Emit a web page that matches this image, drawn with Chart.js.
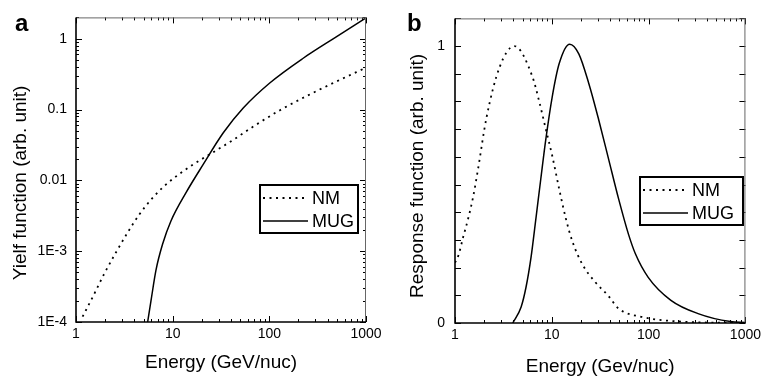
<!DOCTYPE html>
<html lang="en">
<head>
<meta charset="UTF-8">
<title>Yield and response functions</title>
<script src="https://cdn.jsdelivr.net/npm/chart.js"></script>
<style>
  body { margin: 0; background: #fff; }
  #wrap { position: relative; width: 765px; height: 380px; }
  canvas { position: absolute; top: 0; }
  #chartA { left: 0; }
  #chartB { left: 380px; }
</style>
</head>
<body>
<div id="wrap">
  <canvas id="chartA" width="392" height="380"></canvas>
  <canvas id="chartB" width="385" height="380"></canvas>
</div>
<script>
// ---- data ----
// panel a: yield function (log-log)
const nmYieldE  = [1.17, 1.49, 1.96, 2.59, 3.42, 4.52, 6.2, 8.5, 12.7, 16.3, 26.2, 42.4, 68.2, 129, 243, 497, 1000];
const nmYield   = [1.19e-4, 2.26e-4, 4.8e-4, 9.6e-4, 1.83e-3, 3.3e-3, 5.66e-3, 8.7e-3, 0.0133, 0.0168, 0.0249, 0.0374, 0.0575, 0.098, 0.155, 0.25, 0.39];
const mugYieldE = [5.51, 5.97, 6.72, 7.87, 9.6, 13.7, 20.7, 33.4, 53.7, 101, 224, 497, 1000];
const mugYield  = [1e-4, 2.0e-4, 5.4e-4, 1.26e-3, 2.67e-3, 6.65e-3, 0.0168, 0.047, 0.105, 0.237, 0.53, 1.07, 1.97];

// panel b: response function (log x, linear y)
const nmRespE  = [1, 1.08, 1.22, 1.37, 1.54, 1.73, 2.11, 2.89, 4.1, 6.3, 7.41, 8.67, 10.1, 11.9, 13.9, 16.3, 20.6, 28.2, 38, 49, 85, 217, 1000];
const nmResp   = [0.218, 0.242, 0.313, 0.378, 0.456, 0.556, 0.74, 0.924, 1.0, 0.89, 0.80, 0.70, 0.604, 0.485, 0.38, 0.295, 0.213, 0.147, 0.1, 0.052, 0.022, 0.005, 0];
const mugRespE = [3.95, 4.82, 5.42, 6.1, 6.86, 7.7, 8.67, 10.1, 11.9, 15.3, 19, 24.1, 30.5, 38.6, 48.9, 62, 73, 99, 170, 324, 700, 1000];
const mugResp  = [0, 0.058, 0.13, 0.237, 0.379, 0.521, 0.663, 0.817, 0.936, 1.007, 0.972, 0.865, 0.734, 0.592, 0.449, 0.32, 0.25, 0.165, 0.082, 0.034, 0.005, 0.002];

// tick labels
const xTicks  = [1, 10, 100, 1000];
const xLabels = ['1', '10', '100', '1000'];
const yaTicks  = [1e-4, 1e-3, 0.01, 0.1, 1];
const yaLabels = ['1E-4', '1E-3', '0.01', '0.1', '1'];
const ybTicks  = [0, 1];
const ybLabels = ['0', '1'];

const seriesNames = ['NM', 'MUG'];

Chart.defaults.font.family = "'Liberation Sans', Arial, sans-serif";
Chart.defaults.color = '#000';

function pts(xs, ys) {
  return xs.map((x, i) => ({ x: x, y: ys[i] }));
}

// inward ticks on all four sides, frame, boxed legend and panel letter
const framePlugin = {
  id: 'frame',
  afterDatasetsDraw(chart, args, opts) {
    const { ctx, chartArea: a, scales } = chart;
    const xs = scales.x, ys = scales.y;
    ctx.save();
    ctx.strokeStyle = '#000';
    ctx.lineWidth = 1;

    function logValues(min, max) {
      const out = [];
      for (let k = Math.floor(Math.log10(min)); k <= Math.ceil(Math.log10(max)); k++) {
        for (let m = 1; m <= 9; m++) {
          const v = m * Math.pow(10, k);
          if (v >= min * 0.999 && v <= max * 1.001) out.push({ v: v, major: m === 1 });
        }
      }
      return out;
    }

    logValues(xs.min, xs.max).forEach(t => {
      const px = Math.round(xs.getPixelForValue(t.v)) + 0.5;
      const len = t.major ? 6 : 3;
      ctx.beginPath();
      ctx.moveTo(px, a.bottom); ctx.lineTo(px, a.bottom - len);
      ctx.moveTo(px, a.top); ctx.lineTo(px, a.top + len);
      ctx.stroke();
    });

    let yVals;
    if (ys.type === 'logarithmic') {
      yVals = logValues(ys.min, ys.max);
    } else {
      yVals = [];
      for (let i = 0; i * 0.1 <= ys.max + 1e-9; i++) yVals.push({ v: i * 0.1, major: true });
    }
    yVals.forEach(t => {
      const py = Math.round(ys.getPixelForValue(t.v)) + 0.5;
      const len = t.major ? 6 : 3;
      ctx.beginPath();
      ctx.moveTo(a.left, py); ctx.lineTo(a.left + len, py);
      ctx.moveTo(a.right, py); ctx.lineTo(a.right - len, py);
      ctx.stroke();
    });

    // frame
    ctx.strokeStyle = '#666';
    ctx.lineWidth = 1;
    ctx.beginPath();
    ctx.moveTo(a.left, a.top + 0.5); ctx.lineTo(a.right, a.top + 0.5);
    ctx.moveTo(a.right - 0.5, a.top); ctx.lineTo(a.right - 0.5, a.bottom);
    ctx.stroke();
    ctx.strokeStyle = '#000';
    ctx.lineWidth = 1.6;
    ctx.beginPath();
    ctx.moveTo(a.left, a.top); ctx.lineTo(a.left, a.bottom);
    ctx.lineTo(a.right, a.bottom);
    ctx.stroke();

    // legend box
    const b = opts.box;
    ctx.lineWidth = 2;
    ctx.fillStyle = '#fff';
    ctx.fillRect(b.left, b.top, b.width, b.height);
    ctx.strokeRect(b.left, b.top, b.width, b.height);
    ctx.font = "18px 'Liberation Sans', Arial, sans-serif";
    ctx.textBaseline = 'middle';
    ctx.fillStyle = '#000';
    chart.data.datasets.forEach((ds, i) => {
      const cy = b.top + 13 + i * 23;
      ctx.setLineDash(ds.borderDash || []);
      ctx.lineWidth = ds.borderWidth;
      ctx.beginPath();
      ctx.moveTo(b.left + 3, cy); ctx.lineTo(b.left + 48, cy);
      ctx.stroke();
      ctx.setLineDash([]);
      ctx.fillText(ds.label, b.left + 52, cy + 1);
    });

    // panel letter
    ctx.font = "bold 24px 'Liberation Sans', Arial, sans-serif";
    ctx.textBaseline = 'alphabetic';
    ctx.fillText(opts.letter, opts.letterX, opts.letterY);
    ctx.restore();
  }
};

function makeChart(id, p) {
  return new Chart(document.getElementById(id), {
    type: 'line',
    data: {
      datasets: [
        { label: seriesNames[0], data: pts(p.nmE, p.nmY), borderColor: '#000', borderWidth: 1.8,
          borderDash: [2, 4.5], pointRadius: 0, cubicInterpolationMode: 'monotone', fill: false },
        { label: seriesNames[1], data: pts(p.mugE, p.mugY), borderColor: '#000', borderWidth: 1.5,
          pointRadius: 0, cubicInterpolationMode: 'monotone', fill: false }
      ]
    },
    options: {
      responsive: false,
      animation: false,
      layout: { padding: { top: 14, right: p.padRight, left: 0, bottom: 0 } },
      plugins: {
        legend: { display: false },
        tooltip: { enabled: false },
        frame: { box: p.box, letter: p.letter, letterX: p.letterX, letterY: 31 }
      },
      scales: {
        x: {
          type: 'logarithmic', min: 1, max: 1000,
          grid: { display: false, drawTicks: false },
          border: { display: false },
          afterBuildTicks: s => { s.ticks = xTicks.map(v => ({ value: v })); },
          afterFit: s => { s.height = p.xHeight; },
          ticks: { autoSkip: false, maxRotation: 0, padding: 4, font: { size: 14 },
                   callback: v => xLabels[xTicks.indexOf(v)] },
          title: { display: true, text: p.xTitle, font: { size: 19 }, padding: { top: 0, bottom: p.xTitlePad } }
        },
        y: {
          type: p.yType, min: p.yMin, max: p.yMax,
          grid: { display: false, drawTicks: false },
          border: { display: false },
          afterBuildTicks: s => { s.ticks = p.yTicks.map(v => ({ value: v })); },
          afterFit: s => { s.width = p.yWidth; },
          ticks: { autoSkip: false, padding: p.yTickPad, font: { size: 14 },
                   callback: v => p.yLabels[p.yTicks.indexOf(v)] },
          // trailing no-break spaces nudge the centred title down as in the original
          title: { display: true, text: p.yTitle + p.yTitleShift, font: { size: 19 }, padding: { top: p.yTitlePad, bottom: 0 } }
        }
      }
    },
    plugins: [framePlugin]
  });
}

makeChart('chartA', {
  nmE: nmYieldE, nmY: nmYield, mugE: mugYieldE, mugY: mugYield,
  yType: 'logarithmic', yMin: 1e-4, yMax: 2, yTicks: yaTicks, yLabels: yaLabels,
  xTitle: 'Energy (GeV/nuc)', yTitle: 'Yielf function (arb. unit)', yTitleShift: '\u00a0\u00a0\u00a0\u00a0\u00a0',
  padRight: 26, yWidth: 76, xHeight: 58, yTickPad: 9, yTitlePad: 9, xTitlePad: 6,
  box: { left: 260, top: 185, width: 98, height: 48 }, letter: 'a', letterX: 15
});

makeChart('chartB', {
  nmE: nmRespE, nmY: nmResp, mugE: mugRespE, mugY: mugResp,
  yType: 'linear', yMin: 0, yMax: 1.1, yTicks: ybTicks, yLabels: ybLabels,
  xTitle: 'Energy (Gev/nuc)', yTitle: 'Response function (arb. unit)', yTitleShift: '\u00a0\u00a0',
  padRight: 17, yWidth: 75, xHeight: 57, yTickPad: 10, yTitlePad: 26, xTitlePad: 2,
  box: { left: 260, top: 177, width: 103, height: 48 }, letter: 'b', letterX: 27
});
</script>
</body>
</html>
